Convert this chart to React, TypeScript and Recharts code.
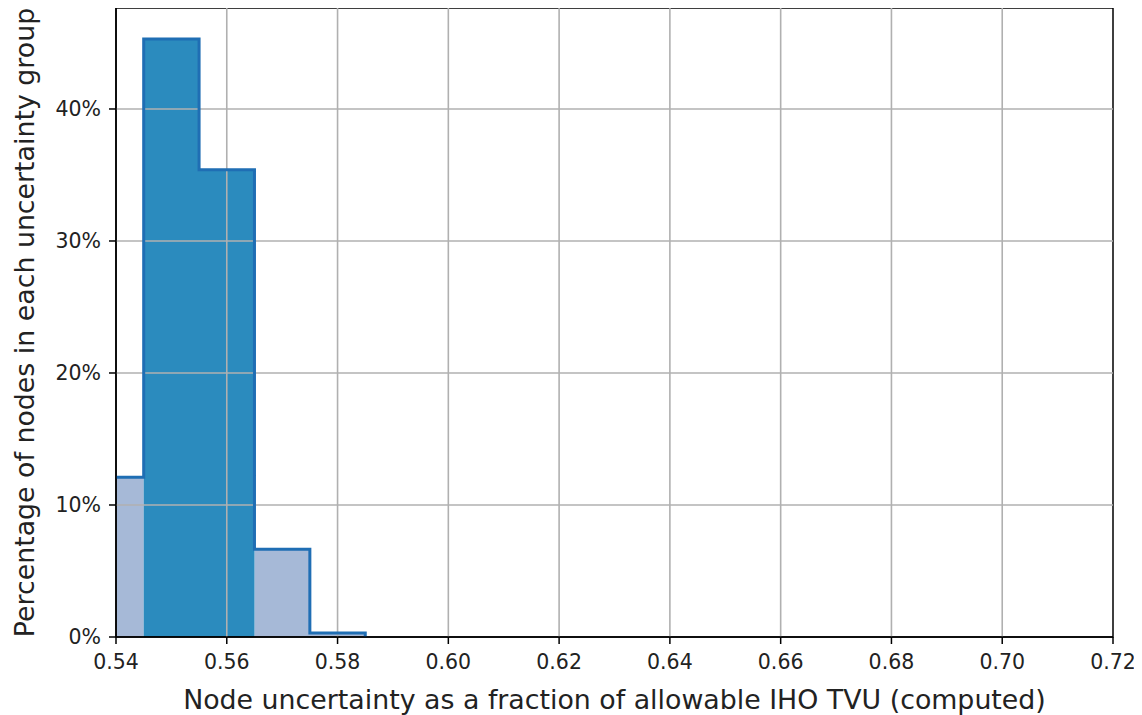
import { ComposedChart, Area, Line, XAxis, YAxis, ReferenceLine, ReferenceArea } from "recharts"

// histogram bin edges (fraction of allowable TVU) and share of nodes in the bin starting at each edge
const binEdges = [0.535, 0.545, 0.555, 0.565, 0.575, 0.585]
const binPercent = [12.1, 45.3, 35.4, 6.65, 0.3, 0]
const binShade = ["light", "dark", "dark", "light", "light", "light"]

const xTicks = [0.54, 0.56, 0.58, 0.6, 0.62, 0.64, 0.66, 0.68, 0.7, 0.72]
const yTicks = [0, 10, 20, 30, 40]
const yMax = 47.65

const data = binEdges.map((x, i) => ({
  x,
  all: binPercent[i],
  light: binShade[i] === "light" ? binPercent[i] : 0,
  dark: binShade[i] === "dark" ? binPercent[i] : 0,
}))

const font = "DejaVu Sans"

export default function App() {
  return (
    <div style={{ width: 1134, height: 707, fontFamily: font }}>
      <ComposedChart width={1134} height={707} data={data} margin={{ top: 0, right: 29, left: 0, bottom: 8 }}>
        <XAxis
          dataKey="x"
          type="number"
          domain={[0.54, 0.72]}
          allowDataOverflow
          ticks={xTicks}
          tickFormatter={(v: number) => v.toFixed(2)}
          tick={{ fontSize: 20.5, fill: "#222", fontFamily: font }}
          tickSize={7}
          tickMargin={10}
          tickLine={{ stroke: "#000", strokeWidth: 1.5 }}
          axisLine={{ stroke: "#000", strokeWidth: 1.5 }}
          height={70}
          label={{
            value: "Node uncertainty as a fraction of allowable IHO TVU (computed)",
            position: "insideBottom",
            offset: -2,
            style: { fontSize: 26.8, fill: "#222", fontFamily: font },
          }}
        />
        <YAxis
          type="number"
          domain={[0, yMax]}
          allowDataOverflow
          ticks={yTicks}
          tickFormatter={(v: number) => `${v}%`}
          tick={{ fontSize: 20.5, fill: "#222", fontFamily: font }}
          tickSize={7}
          tickMargin={8}
          tickLine={{ stroke: "#000", strokeWidth: 1.5 }}
          axisLine={{ stroke: "#000", strokeWidth: 1.5 }}
          width={108}
          label={{
            value: "Percentage of nodes in each uncertainty group",
            angle: -90,
            position: "insideLeft",
            offset: 16,
            style: { fontSize: 26.8, fill: "#222", fontFamily: font, textAnchor: "middle" },
          }}
        />
        <Area type="stepAfter" dataKey="light" stroke="none" fill="#a6b9d7" fillOpacity={1} isAnimationActive={false} />
        <Area type="stepAfter" dataKey="dark" stroke="none" fill="#2b8bbe" fillOpacity={1} isAnimationActive={false} />
        {xTicks.slice(1, -1).map((t) => (
          <ReferenceLine key={"x" + t} x={t} stroke="#b0b0b0" strokeWidth={1.6} />
        ))}
        {yTicks.slice(1).map((t) => (
          <ReferenceLine key={"y" + t} y={t} stroke="#b0b0b0" strokeWidth={1.6} />
        ))}
        <Line type="stepAfter" dataKey="all" stroke="#1f6eb4" strokeWidth={3} dot={false} isAnimationActive={false} />
        <ReferenceArea x1={0.54} x2={0.72} y1={0} y2={yMax} fill="none" stroke="#000" strokeWidth={1.5} />
      </ComposedChart>
    </div>
  )
}
